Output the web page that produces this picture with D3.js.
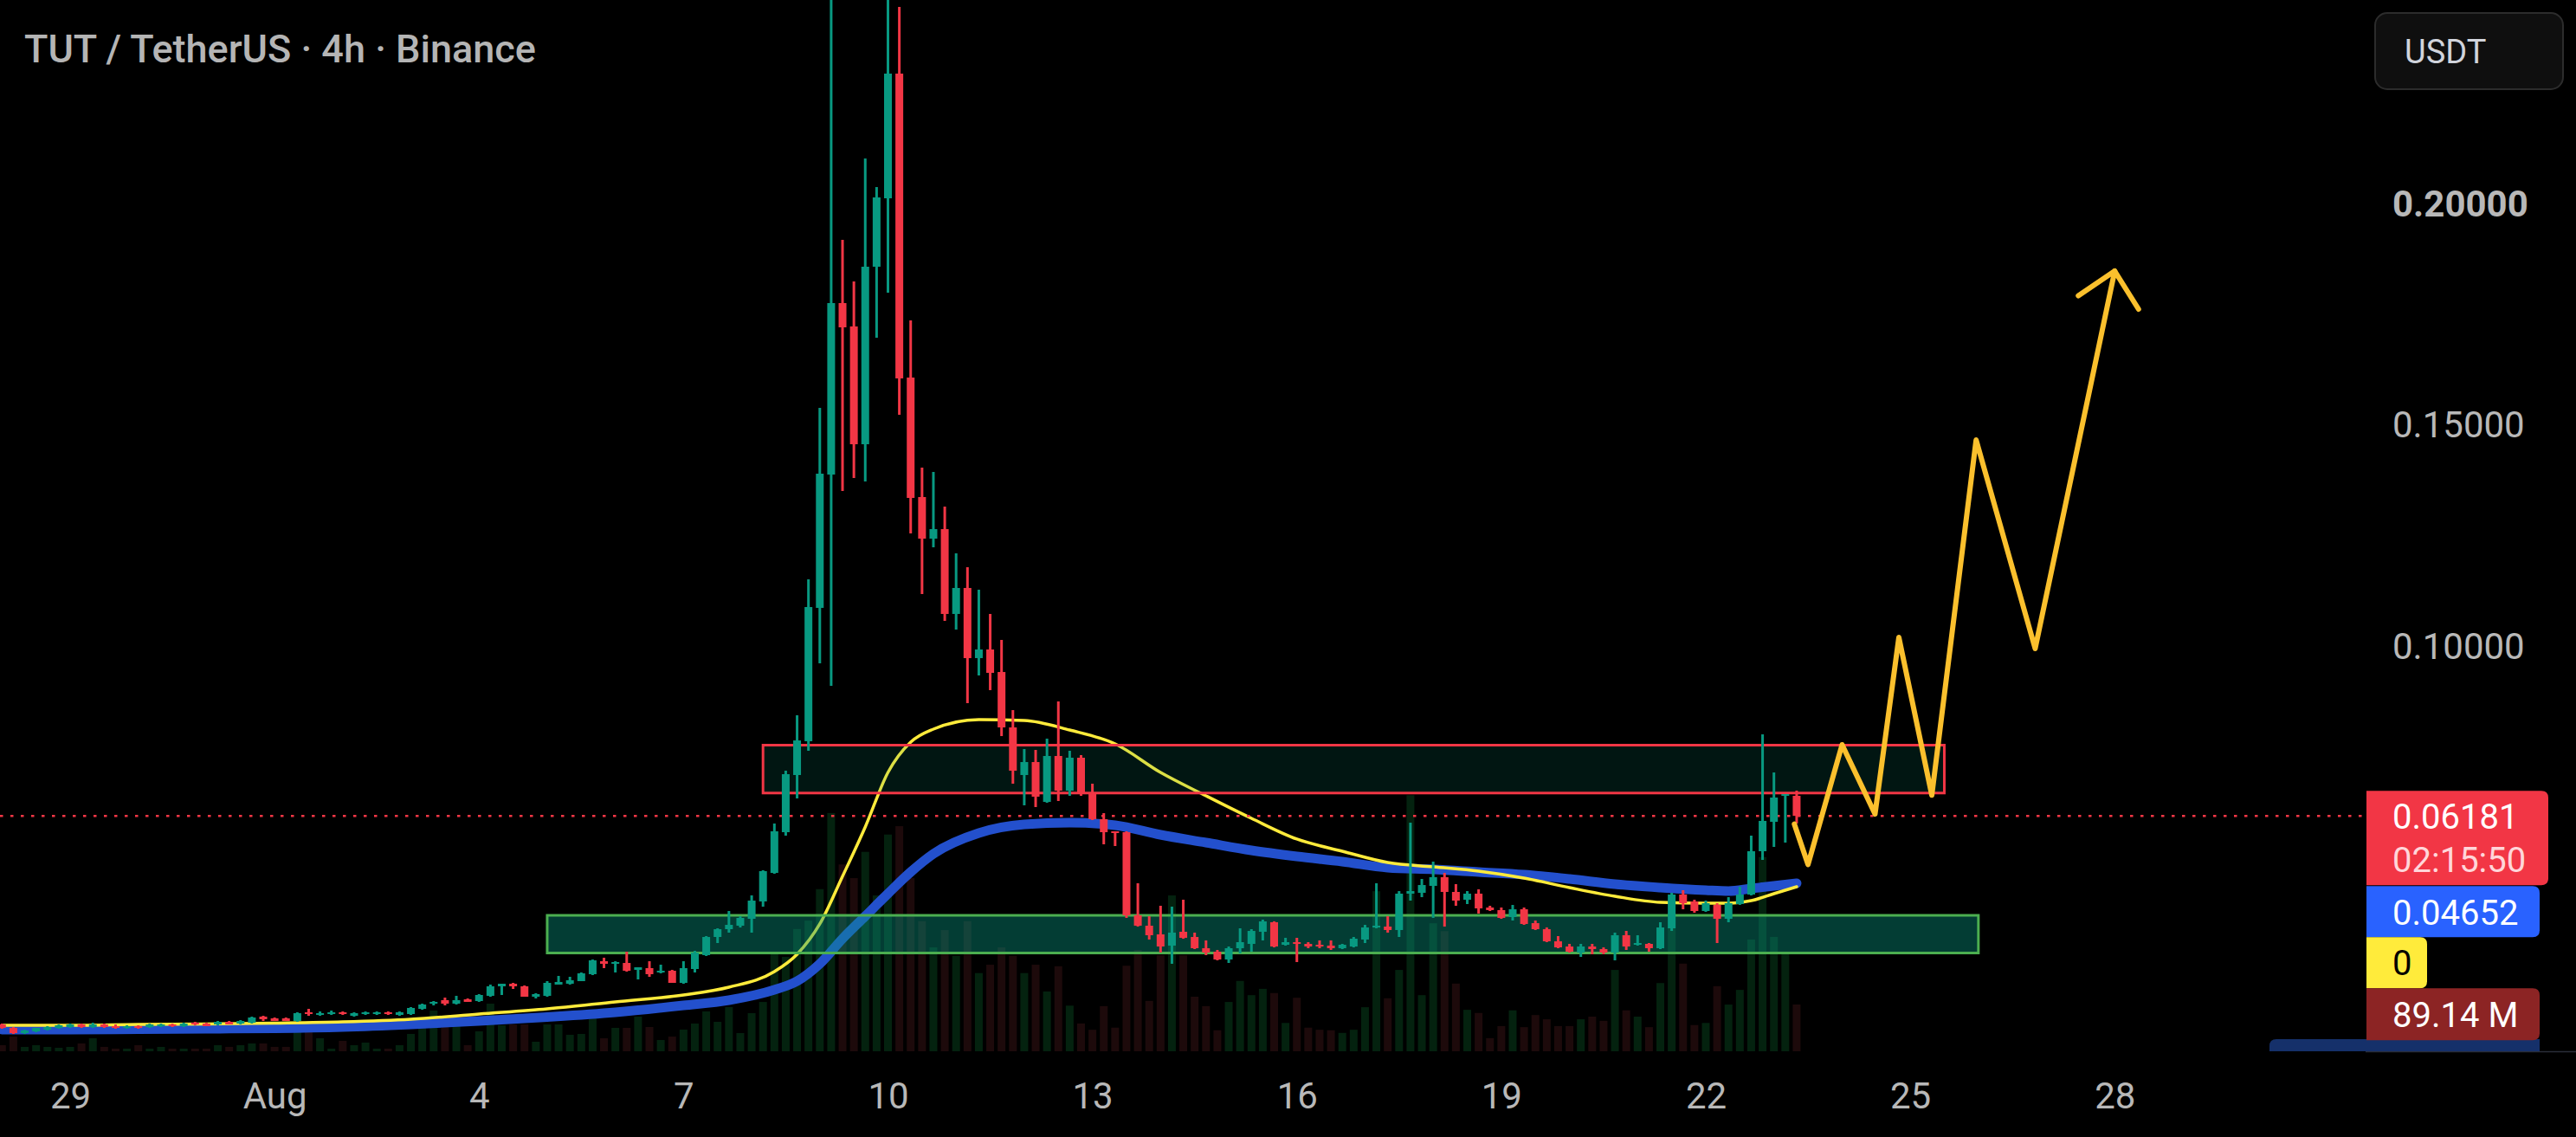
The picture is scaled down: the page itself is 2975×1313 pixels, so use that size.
<!DOCTYPE html>
<html><head><meta charset="utf-8">
<script src="https://cdn.jsdelivr.net/npm/d3@7"></script>
<style>html,body{margin:0;padding:0;background:#000;overflow:hidden}svg{display:block}</style>
</head><body><svg id="c" width="2975" height="1313"></svg>
<script>
// ---------- DATA (4h candles, index 0 = 29 Jul 00:00) ----------
const startIdx = -6;
const open = [
.01468,.01389,.01272,.01311,.01350,.01389,.01409,.01468,.01409,.01468,
.01429,.01389,.01429,.01409,.01429,.01468,.01429,.01507,.01487,.01468,
.01526,.01487,.01507,.01644,.01605,.01605,.01546,.01742,.01683,.01703,
.01742,.01663,.01703,.01703,.01742,.01683,.01703,.01820,.01937,.02016,
.01937,.02035,.01996,.02114,.02329,.02387,.02329,.02094,.02114,.02368,
.02387,.02446,.02603,.02896,.02838,.02857,.02701,.02740,.02642,.02681,
.02407,.02720,.03033,.03444,.03620,.03699,.03855,.04247,.04892,.05812,
.07104,.07867,.10881,.13894,.17769,.17241,.14579,.18591,.20137,.22955,
.16086,.13386,.12446,.12661,.10744,.11331,.09746,.09941,.09432,.08180,
.07104,.07397,.06497,.07534,.06751,.07495,.06673,.06106,.05832,.05812,
.03933,.03699,.03503,.03249,.03562,.03444,.03190,.03112,.02935,.03190,
.03288,.03562,.03777,.03268,.03327,.03288,.03268,.03249,.03190,.03229,
.03386,.03659,.03679,.03601,.04423,.04442,.04599,.04795,.04462,.04286,
.04423,.04110,.04051,.03894,.04070,.03757,.03620,.03346,.03229,.03092,
.03229,.03170,.03092,.03483,.03268,.03288,.03190,.03640,.04403,.04247,
.04031,.04168,.03855,.04188,.04403,.05382,.06047,.06634,.06634];
const high = [
.01487,.01409,.01350,.01389,.01429,.01468,.01487,.01487,.01507,.01487,
.01468,.01448,.01448,.01487,.01487,.01487,.01507,.01526,.01507,.01546,
.01546,.01566,.01644,.01663,.01624,.01624,.01742,.01820,.01761,.01781,
.01761,.01742,.01761,.01761,.01761,.01761,.01859,.01937,.01996,.02074,
.02114,.02055,.02153,.02368,.02387,.02407,.02348,.02172,.02446,.02564,
.02544,.02642,.02935,.02975,.02896,.03112,.02759,.02896,.02818,.02701,
.02896,.03131,.03464,.03640,.04031,.03914,.04384,.04951,.06008,.07202,
.08454,.11526,.15401,.25010,.19198,.18258,.21037,.20391,.25010,.24462,
.17378,.14051,.13953,.13170,.12114,.11800,.11292,.10744,.10157,.08571,
.07691,.07671,.07926,.08767,.07652,.07554,.06908,.06243,.05832,.05832,
.04658,.03914,.04149,.04129,.04286,.03542,.03366,.03151,.03229,.03640,
.03620,.03836,.03796,.03425,.03425,.03327,.03366,.03366,.03288,.03444,
.03718,.04658,.03914,.04481,.06027,.04755,.05147,.04892,.04638,.04481,
.04521,.04149,.04110,.04168,.04110,.03816,.03659,.03464,.03288,.03288,
.03288,.03209,.03542,.03581,.03483,.03307,.03777,.04442,.04501,.04286,
.04266,.04207,.04344,.04579,.05734,.08023,.07162,.06673,.06751];
const low = [
.01370,.01252,.01252,.01292,.01331,.01370,.01389,.01389,.01389,.01389,
.01370,.01370,.01370,.01389,.01409,.01409,.01409,.01448,.01429,.01448,
.01468,.01468,.01487,.01546,.01546,.01546,.01526,.01663,.01663,.01683,
.01683,.01644,.01683,.01683,.01683,.01663,.01683,.01800,.01898,.01898,
.01918,.01977,.01977,.02094,.02133,.02270,.02094,.02055,.02094,.02368,
.02368,.02446,.02583,.02740,.02642,.02661,.02485,.02544,.02622,.02407,
.02387,.02642,.03014,.03307,.03542,.03659,.03542,.04129,.04873,.05734,
.06575,.07652,.09628,.09119,.13523,.13816,.13738,.16986,.18004,.15245,
.12564,.11194,.12250,.10587,.10391,.08728,.09354,.09022,.07984,.06908,
.06419,.06380,.06477,.06517,.06634,.06634,.06086,.05538,.05499,.03875,
.03679,.03386,.03092,.02838,.03405,.03170,.03033,.02916,.02857,.03072,
.03112,.03366,.03209,.03249,.02877,.03190,.03190,.03151,.03170,.03209,
.03307,.03640,.03542,.03444,.04266,.04344,.03875,.03679,.04149,.04188,
.03973,.04031,.03855,.03816,.03718,.03601,.03327,.03190,.03092,.02994,
.03053,.03053,.02916,.03151,.03249,.03112,.03170,.03581,.04070,.03992,
.04012,.03307,.03777,.04168,.04384,.05186,.05479,.05577,.06008];
const close = [
.01389,.01272,.01331,.01389,.01409,.01448,.01468,.01409,.01468,.01409,
.01389,.01429,.01389,.01468,.01468,.01429,.01487,.01468,.01429,.01526,
.01468,.01546,.01624,.01585,.01546,.01546,.01722,.01703,.01722,.01742,
.01703,.01722,.01742,.01742,.01703,.01742,.01840,.01918,.01977,.01937,
.02016,.01977,.02133,.02329,.02387,.02329,.02094,.02153,.02407,.02427,
.02466,.02622,.02916,.02838,.02877,.02681,.02759,.02603,.02681,.02407,
.02740,.03092,.03444,.03620,.03718,.03875,.04266,.04932,.05832,.07123,
.07886,.10900,.13914,.17769,.17221,.14579,.18591,.20157,.22955,.16067,
.13366,.12446,.12661,.10744,.11331,.09746,.09941,.09413,.08180,.07202,
.07397,.06614,.07534,.06751,.07495,.06673,.06106,.05812,.05793,.03933,
.03699,.03483,.03229,.03542,.03425,.03190,.03092,.02935,.03190,.03327,
.03581,.03796,.03229,.03327,.03288,.03229,.03229,.03190,.03268,.03405,
.03659,.03699,.03601,.04423,.04481,.04618,.04795,.04462,.04266,.04423,
.04090,.04051,.03875,.04070,.03738,.03620,.03346,.03209,.03112,.03229,
.03170,.03092,.03483,.03229,.03307,.03190,.03659,.04403,.04207,.04031,
.04207,.03855,.04207,.04403,.05382,.06067,.06595,.06673,.06181];
// volume in millions
const volume = [
11.6,28,8.3,11.6,8.3,6.6,8.3,14.9,24.8,8.3,
5,5,11.6,5,8.3,5,5,5,5,11.6,
8.3,11.6,14.9,14.9,8.3,8.3,52.8,52.8,24.8,5,
19.8,11.6,16.5,5,5,11.6,33,44.6,77.6,49.5,
49.5,11.6,38,90.8,49.5,51.2,51.2,18.2,51.2,51.2,
31.4,33,75.9,24.8,44.6,44.6,66,46.2,21.5,28,
41.3,52.8,75.9,56.1,84.2,34.7,72.6,94,188,180,
233,249,309,454,356,330,380,297,413,429,
330,248,198,231,182,248,149,165,198,182,
149,165,114,162,87,53,41,86,45,163,
193,96,183,297,183,104,86,40,94,134,
107,119,111,54,102,45,41,40,35,41,
84,305,101,155,488,107,244,229,129,79,
73,25,48,78,46,69,61,48,48,61,
66,58,155,78,66,46,130,264,167,50,
54,124,89,117,213,370,218,185,89.14];

// moving averages read at sampled candle indexes
const maIdx = [-6,0,6,12,18,24,30,36,42,48,54,58,62,64,66,68,70,72,74,76,80,84,88,92,96,100,104,108,112,116,120,124,128,132,136,140,144,146,148,150,152];
const maYellow = [.01448,.01448,.01468,.01477,.01497,.01526,.01585,.01703,.01820,.01977,.02133,.02309,.02661,.03053,.03738,.04814,.05930,.07162,.07847,.08141,.08356,.08337,.08121,.07808,.07162,.06634,.06125,.05656,.05382,.05127,.05029,.04932,.04775,.04560,.04364,.04227,.04207,.04207,.04266,.04423,.04579];
const maBlue = [.01350,.01350,.01360,.01370,.01380,.01409,.01468,.01546,.01634,.01742,.01898,.02016,.02250,.02446,.02838,.03405,.03914,.04423,.04912,.05323,.05793,.05988,.06027,.05969,.05753,.05577,.05401,.05264,.05147,.05010,.04971,.04912,.04853,.04755,.04638,.04560,.04501,.04481,.04540,.04599,.04658];

// drawn zones: [fromIdx, toIdx, topPrice, bottomPrice]
const supportZone = [42, 168, 0.03933, 0.03082];
const resistanceZone = [61, 165, 0.07779, 0.06697];

// projected path
const projIdx = [151.8, 153.0, 156.0, 158.9, 161.0, 163.9, 167.8, 173.0, 180.0, 182.1];
const projPrice = [0.05994, 0.05082, 0.07789, 0.06223, 0.10215, 0.06648, 0.14677, 0.09961, 0.18493, 0.17632];
const arrowIdx = [176.8, 180.0];
const arrowPrice = [0.17935, 0.18493];

const tickDates = ["2025-07-29","2025-08-01","2025-08-04","2025-08-07","2025-08-10","2025-08-13","2025-08-16","2025-08-19","2025-08-22","2025-08-25","2025-08-28"];
const tickLabels = ["29","Aug","4","7","10","13","16","19","22","25","28"];
const priceTicks = [0.10, 0.15, 0.20];

const lastPrice = 0.06181, countdown = "02:15:50", blueValue = 0.04652, yellowValue = "0", volLabel = "89.14 M";
const title = "TUT / TetherUS · 4h · Binance";

// ---------- CHART ----------
const svg = d3.select("#c");
const plotRight = 2733, plotBottom = 1214;
const t0 = Date.UTC(2025, 6, 29), H4 = 4 * 3600 * 1000;
const dateOf = i => new Date(t0 + i * H4);
const x = d3.scaleUtc().domain([new Date(t0), new Date(Date.UTC(2025, 7, 28))]).range([81, 2442.24]);
const y = d3.scaleLinear().domain([0, 0.2]).range([1258, 236]);
const yv = d3.scaleLinear().domain([0, 500]).range([plotBottom, plotBottom - 303]);
const UP = "#089981", DOWN = "#f23645";
const FONT = "Roboto, 'Noto Sans', sans-serif";

svg.append("rect").attr("width", 2975).attr("height", 1313).attr("fill", "#000");
svg.append("defs").append("clipPath").attr("id", "plot")
  .append("rect").attr("x", 0).attr("y", 0).attr("width", plotRight).attr("height", plotBottom);
const g = svg.append("g").attr("clip-path", "url(#plot)");

const candles = open.map((o, k) => ({ i: startIdx + k, o, h: high[k], l: low[k], c: close[k], v: volume[k] }));

// volume
g.append("g").selectAll("rect").data(candles).join("rect")
  .attr("x", d => x(dateOf(d.i)) - 4.5).attr("width", 9)
  .attr("y", d => yv(d.v)).attr("height", d => plotBottom - yv(d.v))
  .attr("fill", d => d.c >= d.o ? "#04220f" : "#1d0a0b");

// moving averages
const maPts = arr => maIdx.map((i, k) => [x(dateOf(i)), y(arr[k])]);
const lineGen = d3.line().curve(d3.curveMonotoneX);
g.append("path").attr("d", lineGen(maPts(maBlue))).attr("fill", "none")
  .attr("stroke", "#2350cd").attr("stroke-width", 11).attr("stroke-linecap", "round");
g.append("path").attr("d", lineGen(maPts(maYellow))).attr("fill", "none")
  .attr("stroke", "#ffeb3b").attr("stroke-width", 3.5).attr("stroke-linecap", "round");

// zones
function zone(z, fill, stroke) {
  const x0 = x(dateOf(z[0])), x1 = x(dateOf(z[1]));
  g.append("rect").attr("x", x0).attr("y", y(z[2])).attr("width", x1 - x0).attr("height", y(z[3]) - y(z[2]))
    .attr("fill", fill).attr("stroke", stroke).attr("stroke-width", 3);
}
zone(supportZone, "rgba(8,153,129,0.40)", "#4caf50");
zone(resistanceZone, "rgba(8,153,129,0.14)", "#f23645");

// last price dotted line
g.append("line").attr("x1", 0).attr("x2", plotRight).attr("y1", y(lastPrice)).attr("y2", y(lastPrice))
  .attr("stroke", DOWN).attr("stroke-width", 2.5).attr("stroke-dasharray", "3.5 8.5");

// candles
const cg = g.append("g").selectAll("g").data(candles).join("g");
cg.append("rect").attr("x", d => x(dateOf(d.i)) - 1.5).attr("width", 3)
  .attr("y", d => y(d.h)).attr("height", d => Math.max(1, y(d.l) - y(d.h)))
  .attr("fill", d => d.c >= d.o ? UP : DOWN);
cg.append("rect").attr("x", d => x(dateOf(d.i)) - 4.5).attr("width", 9)
  .attr("y", d => y(Math.max(d.o, d.c))).attr("height", d => Math.max(2, Math.abs(y(d.o) - y(d.c))))
  .attr("fill", d => d.c >= d.o ? UP : DOWN);

// projection
const projLine = d3.line().curve(d3.curveLinear);
g.append("path").attr("d", projLine(projIdx.map((i, k) => [x(dateOf(i)), y(projPrice[k])])))
  .attr("fill", "none").attr("stroke", "#fbc02d").attr("stroke-width", 6)
  .attr("stroke-linejoin", "round").attr("stroke-linecap", "round");
g.append("path").attr("d", projLine(arrowIdx.map((i, k) => [x(dateOf(i)), y(arrowPrice[k])])))
  .attr("fill", "none").attr("stroke", "#fbc02d").attr("stroke-width", 6).attr("stroke-linecap", "round");

// x axis
const xAxis = d3.axisBottom(x).tickValues(tickDates.map(s => new Date(s + "T00:00:00Z")))
  .tickFormat((d, k) => tickLabels[k]).tickSize(0).tickPadding(36);
const xg = svg.append("g").attr("transform", `translate(0,${plotBottom})`).call(xAxis);
xg.select(".domain").remove();
xg.selectAll("text").attr("fill", "#b8b8b8").attr("font-size", 42).attr("font-family", FONT);

// y axis
const yAxis = d3.axisRight(y).tickValues(priceTicks).tickFormat(d3.format(".5f")).tickSize(0).tickPadding(0);
const yg = svg.append("g").attr("transform", "translate(2763,0)").call(yAxis);
yg.select(".domain").remove();
yg.selectAll("text").attr("fill", "#b8b8b8").attr("font-size", 42).attr("font-family", FONT)
  .attr("font-weight", d => d === 0.2 ? 700 : 400);

// right separator
svg.append("line").attr("x1", 2732).attr("x2", 2975).attr("y1", plotBottom + 0.5).attr("y2", plotBottom + 0.5)
  .attr("stroke", "#2a2e39").attr("stroke-width", 1.5);

// right labels
const yl = y(lastPrice);
function box(x0, y0, w, h, fill) {
  svg.append("path").attr("fill", fill)
    .attr("d", `M${x0},${y0} H${x0 + w - 8} Q${x0 + w},${y0} ${x0 + w},${y0 + 8} V${y0 + h - 8} Q${x0 + w},${y0 + h} ${x0 + w - 8},${y0 + h} H${x0} Z`);
}
function label(tx, ty, s, fill) {
  svg.append("text").attr("x", tx).attr("y", ty).attr("dy", "0.36em").text(s)
    .attr("fill", fill).attr("font-size", 40).attr("font-family", FONT);
}
// navy strip at bottom
svg.append("path").attr("fill", "#15306a")
  .attr("d", `M2621,${plotBottom} V1208 Q2621,1200 2629,1200 H2933 V${plotBottom} Z`);
box(2733, yl - 29, 210, 109, "#f23645");
label(2763, yl, d3.format(".5f")(lastPrice), "#ffffff");
label(2763, yl + 50, countdown, "#ffd6da");
box(2733, yl + 81, 200, 59, "#2962ff");
label(2763, yl + 111, d3.format(".5f")(blueValue), "#ffffff");
box(2733, yl + 140, 70, 59, "#ffeb3b");
label(2763, yl + 169, yellowValue, "#000000");
box(2733, yl + 199, 200, 60, "#8c2424");
label(2763, yl + 229, volLabel, "#ffffff");

// USDT button
svg.append("rect").attr("x", 2743).attr("y", 15).attr("width", 217).attr("height", 88).attr("rx", 14)
  .attr("fill", "#0f0f0f").attr("stroke", "#2c2c2c").attr("stroke-width", 2);
svg.append("text").attr("x", 2777).attr("y", 59).attr("dy", "0.36em").text("USDT")
  .attr("fill", "#d1d4dc").attr("font-size", 38).attr("font-family", FONT);

// title
svg.append("text").attr("x", 28).attr("y", 72).text(title)
  .attr("fill", "#b5b5b5").attr("font-size", 45).attr("font-weight", 500).attr("font-family", FONT);
</script>
</body></html>
